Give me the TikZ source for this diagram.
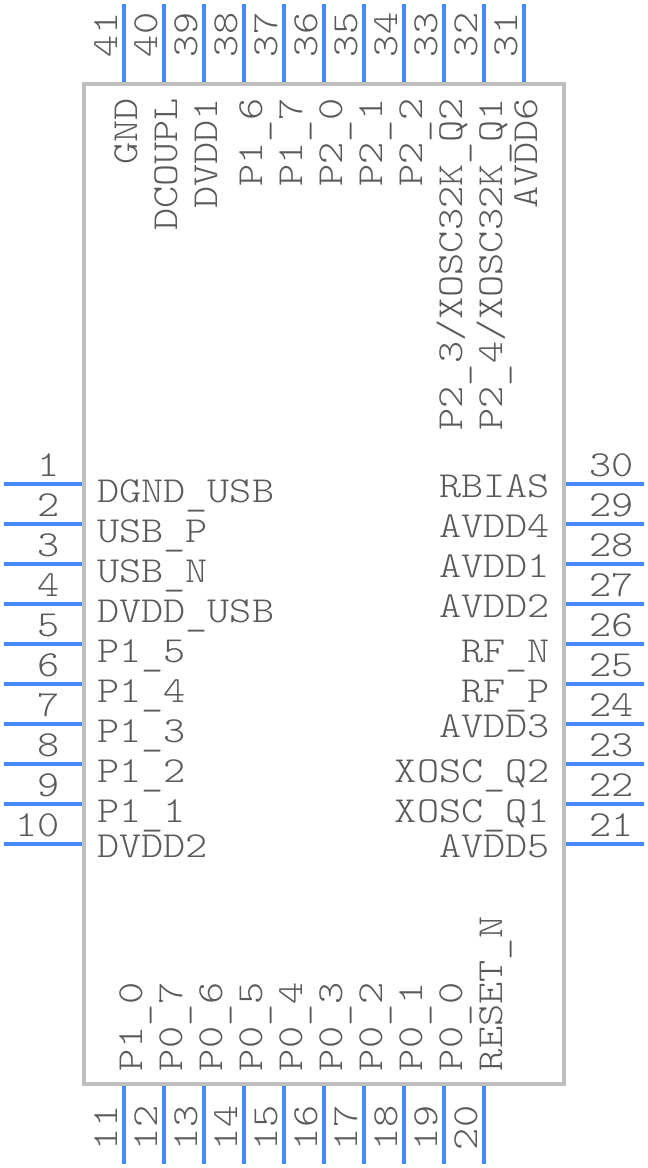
\documentclass[tikz,border=0pt]{standalone}
\usepackage{fontspec}
\setmonofont[FakeStretch=1.15]{Latin Modern Mono Light}
\usetikzlibrary{positioning}
\definecolor{pinblue}{RGB}{70,138,247}
\definecolor{chipgrey}{RGB}{191,191,191}
\definecolor{textgrey}{RGB}{90,90,90}
\newcommand{\lowbar}{\raisebox{-3.5pt}{\_}}

\begin{document}
\begin{tikzpicture}[
    x=1pt, y=-1pt,
    chip/.style={rectangle, draw=chipgrey, line width=4pt, minimum width=480pt, minimum height=1000pt, inner sep=0pt, outer sep=0pt},
    pin/.style={draw=pinblue, line width=4pt},
    txt/.style={text=textgrey, inner sep=0pt, outer sep=0pt, font=\fontsize{36.7}{40}\selectfont\ttfamily},
    pinnum/.style={txt},
    pinname/.style={txt}
]
\useasboundingbox (0,0) rectangle (648,1168);

% left side
\foreach \n/\lab/\off in {1/DGND\lowbar USB/18,2/USB\lowbar P/18,3/USB\lowbar N/18,4/DVDD\lowbar USB/18,5/P1\lowbar 5/18,6/P1\lowbar 4/18,7/P1\lowbar 3/18,8/P1\lowbar 2/18,9/P1\lowbar 1/18,10/DVDD2/13}{
    \coordinate (pin\n) at (82,444+40*\n);
    \coordinate (end\n) at (4,444+40*\n);
    \draw[pin] (pin\n) -- (end\n);
    \node[pinnum, anchor=base east] (num\n) at (60,436+40*\n) {\n};
    \node[pinname, anchor=base west] (name\n) at (97,444+40*\n+\off) {\lab};
}
% bottom side
\foreach \n/\lab/\off in {11/P1\lowbar 0/18,12/P0\lowbar 7/18,13/P0\lowbar 6/18,14/P0\lowbar 5/18,15/P0\lowbar 4/18,16/P0\lowbar 3/18,17/P0\lowbar 2/18,18/P0\lowbar 1/18,19/P0\lowbar 0/18,20/RESET\lowbar N/18}{
    \coordinate (pin\n) at (40*\n-316,1086);
    \coordinate (end\n) at (40*\n-316,1164);
    \draw[pin] (pin\n) -- (end\n);
    \node[pinnum, rotate=90, anchor=base west] (num\n) at (40*\n-323,1150) {\n};
    \node[pinname, rotate=90, anchor=base west] (name\n) at (40*\n-316+\off,1071) {\lab};
}
% right side
\foreach \n/\lab/\off in {21/AVDD5/13,22/XOSC\lowbar Q1/18,23/XOSC\lowbar Q2/18,24/AVDD3/13,25/RF\lowbar P/18,26/RF\lowbar N/18,27/AVDD2/13,28/AVDD1/13,29/AVDD4/13,30/RBIAS/13}{
    \coordinate (pin\n) at (566,1684-40*\n);
    \coordinate (end\n) at (644,1684-40*\n);
    \draw[pin] (pin\n) -- (end\n);
    \node[pinnum, anchor=base west] (num\n) at (589,1676-40*\n) {\n};
    \node[pinname, anchor=base east] (name\n) at (550,1684-40*\n+\off) {\lab};
}
% top side
\foreach \n/\lab/\off in {31/AVDD6/13,32/{P2\lowbar 4/XOSC32K\lowbar Q1}/18,33/{P2\lowbar 3/XOSC32K\lowbar Q2}/18,34/P2\lowbar 2/18,35/P2\lowbar 1/18,36/P2\lowbar 0/18,37/P1\lowbar 7/18,38/P1\lowbar 6/18,39/DVDD1/13,40/DCOUPL/13,41/GND/13}{
    \coordinate (pin\n) at (1764-40*\n,82);
    \coordinate (end\n) at (1764-40*\n,4);
    \draw[pin] (pin\n) -- (end\n);
    \node[pinnum, rotate=90, anchor=base west] (num\n) at (1757-40*\n,57) {\n};
    \node[pinname, rotate=90, anchor=base east] (name\n) at (1764-40*\n+\off,98) {\lab};
}

\node[chip] (body) at (324,584) {};
\end{tikzpicture}
\end{document}
